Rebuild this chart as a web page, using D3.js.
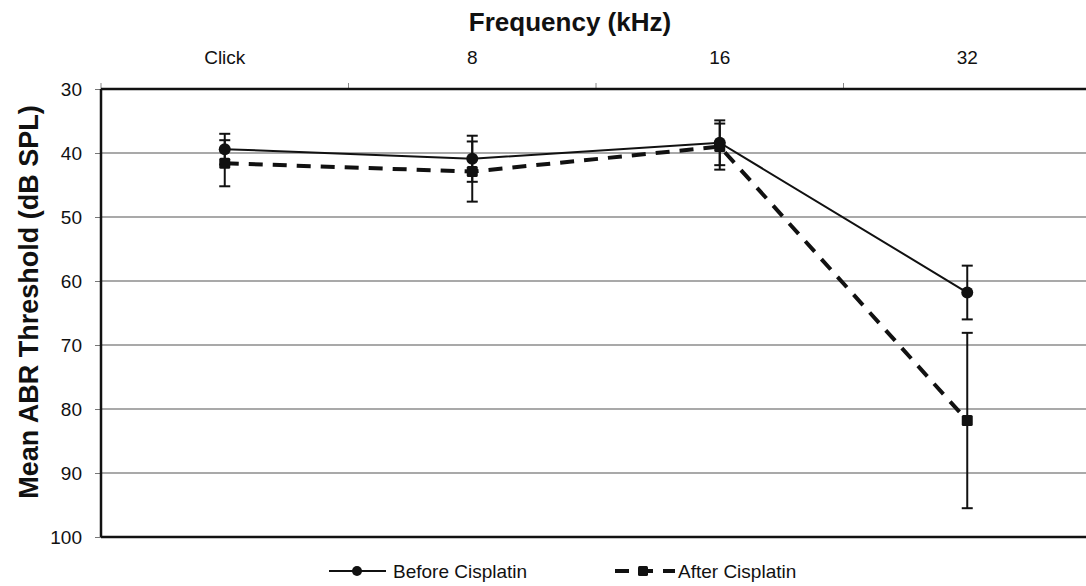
<html>
<script src="https://d3js.org/d3.v7.min.js"></script>
<style>
body { margin: 0; background: #fff; }
text { font-family: "Liberation Sans", Arial, sans-serif; fill: #111; }
</style>
<body>
<svg id="chart" width="1086" height="586"></svg>
<script>
// values (dB SPL, lower on the page = higher threshold)
var categories = ["Click", "8", "16", "32"];
var yTicks = [30, 40, 50, 60, 70, 80, 90, 100];
var beforeMean = [39.4, 40.9, 38.4, 61.8];
var beforeErr  = [2.4, 3.6, 3.5, 4.2];
var afterMean  = [41.6, 42.9, 39.0, 81.8];
var afterErr   = [3.6, 4.7, 3.6, 13.7];

var svg = d3.select("#chart");
var plotLeft = 101, plotRight = 1091, plotTop = 89, plotBottom = 537;

var x = d3.scaleBand().domain(categories).range([plotLeft, plotRight]);
var y = d3.scaleLinear().domain([30, 100]).range([plotTop, plotBottom]);

// gridlines
svg.append("g").selectAll("line")
  .data(yTicks.slice(1, -1))
  .enter().append("line")
  .attr("x1", plotLeft).attr("x2", plotRight)
  .attr("y1", function(d) { return y(d); })
  .attr("y2", function(d) { return y(d); })
  .attr("stroke", "#8c8c8c").attr("stroke-width", 1.5);

// left axis
var yAxis = svg.append("g")
  .attr("transform", "translate(" + plotLeft + ",0)")
  .call(d3.axisLeft(y).tickValues(yTicks).tickSize(6).tickPadding(13));
yAxis.select(".domain").remove();
yAxis.selectAll(".tick line").attr("stroke", "#777");
yAxis.selectAll("text").style("font-size", "19px").attr("fill", "#111");

// top axis
var xAxis = svg.append("g")
  .attr("transform", "translate(0," + plotTop + ")")
  .call(d3.axisTop(x).tickSize(0).tickPadding(25));
xAxis.select(".domain").remove();
xAxis.selectAll("text").style("font-size", "19px").attr("fill", "#111");
// band boundary ticks on the top axis
svg.append("g").selectAll("line")
  .data(categories)
  .enter().append("line")
  .attr("x1", function(d) { return x(d); })
  .attr("x2", function(d) { return x(d); })
  .attr("y1", plotTop - 6).attr("y2", plotTop)
  .attr("stroke", "#888").attr("stroke-width", 1);

// frame lines
svg.append("line").attr("x1", plotLeft).attr("x2", plotRight).attr("y1", plotTop).attr("y2", plotTop)
  .attr("stroke", "#111").attr("stroke-width", 2.5);
svg.append("line").attr("x1", plotLeft).attr("x2", plotRight).attr("y1", plotBottom).attr("y2", plotBottom)
  .attr("stroke", "#111").attr("stroke-width", 2.5);
svg.append("line").attr("x1", plotLeft).attr("x2", plotLeft).attr("y1", plotTop).attr("y2", plotBottom)
  .attr("stroke", "#111").attr("stroke-width", 2.5);

// titles
svg.append("text").attr("x", 570).attr("y", 31)
  .attr("text-anchor", "middle").style("font-size", "26px").style("font-weight", "bold")
  .text("Frequency (kHz)");
svg.append("text")
  .attr("transform", "translate(38,302) rotate(-90)")
  .attr("text-anchor", "middle").style("font-size", "27px").style("font-weight", "bold")
  .text("Mean ABR Threshold (dB SPL)");

var cx = function(i) { return x(categories[i]) + x.bandwidth() / 2; };

function drawErr(mean, err) {
  var g = svg.append("g").attr("stroke", "#111").attr("stroke-width", 2);
  mean.forEach(function(m, i) {
    var xc = cx(i);
    g.append("line").attr("x1", xc).attr("x2", xc)
      .attr("y1", y(m - err[i])).attr("y2", y(m + err[i]));
    [m - err[i], m + err[i]].forEach(function(v) {
      g.append("line").attr("x1", xc - 5.5).attr("x2", xc + 5.5)
        .attr("y1", y(v)).attr("y2", y(v));
    });
  });
}
drawErr(beforeMean, beforeErr);
drawErr(afterMean, afterErr);

var line = d3.line().x(function(d, i) { return cx(i); }).y(function(d) { return y(d); });

svg.append("path").datum(afterMean).attr("d", line)
  .attr("fill", "none").attr("stroke", "#111").attr("stroke-width", 4)
  .attr("stroke-dasharray", "14,10");
svg.append("path").datum(beforeMean).attr("d", line)
  .attr("fill", "none").attr("stroke", "#111").attr("stroke-width", 2);

svg.append("g").selectAll("rect").data(afterMean).enter().append("rect")
  .attr("x", function(d, i) { return cx(i) - 5.5; })
  .attr("y", function(d) { return y(d) - 5.5; })
  .attr("width", 11).attr("height", 11).attr("rx", 1.5).attr("fill", "#111");
svg.append("g").selectAll("circle").data(beforeMean).enter().append("circle")
  .attr("cx", function(d, i) { return cx(i); })
  .attr("cy", function(d) { return y(d); })
  .attr("r", 6).attr("fill", "#111");

// legend
var ly = 571;
svg.append("line").attr("x1", 329).attr("x2", 386).attr("y1", ly).attr("y2", ly)
  .attr("stroke", "#111").attr("stroke-width", 2);
svg.append("circle").attr("cx", 357).attr("cy", ly).attr("r", 5).attr("fill", "#111");
svg.append("text").attr("x", 393).attr("y", ly + 7).style("font-size", "19px").text("Before Cisplatin");

svg.append("line").attr("x1", 615).attr("x2", 675).attr("y1", ly).attr("y2", ly)
  .attr("stroke", "#111").attr("stroke-width", 4).attr("stroke-dasharray", "14,10");
svg.append("rect").attr("x", 638).attr("y", ly - 5).attr("width", 10).attr("height", 10)
  .attr("rx", 1.5).attr("fill", "#111");
svg.append("text").attr("x", 678).attr("y", ly + 7).style("font-size", "19px").text("After Cisplatin");
</script>
</body>
</html>
